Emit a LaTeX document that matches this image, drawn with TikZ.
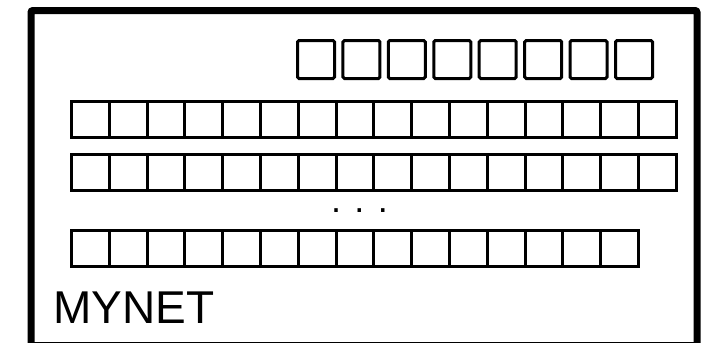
\documentclass[tikz,border=0pt]{standalone}
\usepackage{fontspec}
\setmainfont{Liberation Sans}
\usetikzlibrary{positioning}
\tikzset{
    % outer frame of the net
    netframe/.style={
        line width=7pt,
        rounded corners=2pt,
        black
    },
    % separate boxes of the top row
    slotbox/.style={
        draw,
        line width=3pt,
        rounded corners=1.5pt,
        minimum width=37pt,
        minimum height=38pt,
        inner sep=0pt
    },
    % cells of the long rows
    cellbox/.style={
        draw,
        line width=3pt,
        minimum width=37.8pt,
        minimum height=36pt,
        inner sep=0pt,
        outer sep=0pt
    }
}

\begin{document}
\begin{tikzpicture}[x=1pt,y=-1pt]
    \useasboundingbox (0,0) rectangle (713,343);
    % ===================== frame =====================
    \draw[netframe] (31,345.5) -- (31,10.5) -- (697,10.5) -- (697,345.5) -- cycle;

    % ===================== top row =====================
    \foreach \k in {1,...,8}
      \node[slotbox] (s\k) at ({316+45.43*(\k-1)},59.5) {};

    % ===================== long rows =====================
    \foreach \i in {1,...,16}
      \node[cellbox] (a\i) at ({71.5+37.8*(\i-0.5)},119.5) {};
    \foreach \i in {1,...,16}
      \node[cellbox] (b\i) at ({71.5+37.8*(\i-0.5)},172.5) {};
    \foreach \i in {1,...,15}
      \node[cellbox] (c\i) at ({71.5+37.8*(\i-0.5)},248.5) {};

    %label
    \node[anchor=base,inner sep=0pt,font=\fontsize{36}{40}\selectfont] (dots) at (359.5,212.5) {. . .};
    \node[anchor=base west,inner sep=0pt,font=\fontsize{46}{50}\selectfont] (name) at (53,323) {MYNET};
\end{tikzpicture}
\end{document}
